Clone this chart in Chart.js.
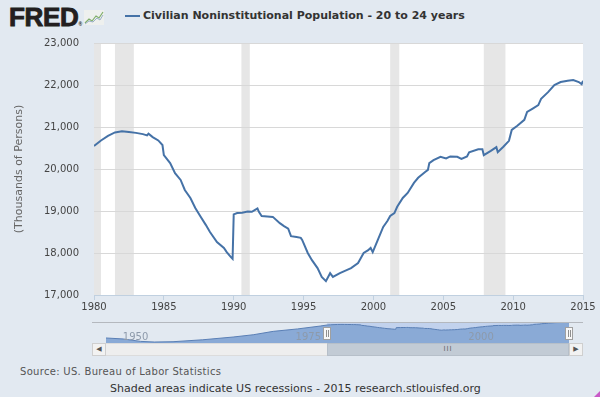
<!DOCTYPE html>
<html>
<head>
<meta charset="utf-8">
<script src="https://cdn.jsdelivr.net/npm/chart.js@4.4.0/dist/chart.umd.min.js"></script>
<style>
  html, body { margin: 0; padding: 0; }
  body { width: 600px; height: 397px; background: #e2e9f1; position: relative; overflow: hidden; font-family: "DejaVu Sans", sans-serif; }
  #main { position: absolute; left: 0; top: 0; }
  #nav { position: absolute; left: 0; top: 318px; }
  .logo { position: absolute; left: 9px; top: 2px; font: bold 26px "Liberation Sans", Arial, sans-serif; color: #231f20; letter-spacing: -0.3px; -webkit-text-stroke: 0.9px #231f20; }
  .logo sup { font-size: 5px; -webkit-text-stroke: 0; letter-spacing: 0; vertical-align: 0; }
  .icon { position: absolute; left: 84px; top: 10px; }
  .legline { position: absolute; left: 125px; top: 15px; width: 15px; height: 2px; background: #4572a7; }
  .legtext { position: absolute; left: 143px; top: 9px; font: bold 11px "DejaVu Sans", sans-serif; color: #333; white-space: nowrap; }
  .source { position: absolute; left: 20px; top: 366px; font: 10px "DejaVu Sans", sans-serif; letter-spacing: 0.3px; color: #555; white-space: nowrap; }
  .note { position: absolute; left: 110px; top: 382px; font: 11px "DejaVu Sans", sans-serif; color: #333; white-space: nowrap; }
  .sb { position: absolute; top: 343px; height: 13px; box-sizing: border-box; }
  .btn { width: 14px; background: #f2f2f2; border: 1px solid #cfcfcf; font-size: 7px; color: #555; text-align: center; line-height: 11px; }
  .track { left: 106px; width: 463px; background: #eeeeee; border-top: 1px solid #dcdcdc; border-bottom: 1px solid #dcdcdc; }
  .thumb { left: 327px; width: 242px; background: #c2cbd5; border: 1px solid #b6bfc9; font-size: 7px; color: #666; text-align: center; line-height: 11px; letter-spacing: 1px; }
  .grip { position: absolute; right: 0; bottom: 0; width: 0; height: 0; border-left: 6px solid transparent; border-bottom: 6px solid #c85ac8; }
</style>
</head>
<body>
<div class="logo">FRED<sup>&reg;</sup></div>
<svg class="icon" width="20" height="15" viewBox="0 0 20 15">
  <rect x="0" y="0" width="20" height="15" fill="#eef0ee"/>
  <polyline points="1,13 5,9 8,11 12,6 15,8 19,2" fill="none" stroke="#7fae6a" stroke-width="1.2"/>
  <polyline points="1,14 5,11 9,12 13,8 16,10 19,5" fill="none" stroke="#9bb0c8" stroke-width="1"/>
</svg>
<div class="legline"></div>
<div class="legtext">Civilian Noninstitutional Population - 20 to 24 years</div>

<canvas id="main" width="600" height="318"></canvas>
<canvas id="nav" width="600" height="44"></canvas>

<div class="sb btn" style="left:92px;">&#9664;</div>
<div class="sb track"></div>
<div class="sb thumb">III</div>
<div class="sb btn" style="left:569px;">&#9654;</div>

<div class="source">Source: US. Bureau of Labor Statistics</div>
<div class="note">Shaded areas indicate US recessions - 2015 research.stlouisfed.org</div>
<div class="grip"></div>

<script>
// Werte (Jahr als Dezimalzahl, Tausend Personen)
const years = [
  1980.0, 1980.5, 1981.0, 1981.5, 1982.0, 1982.5, 1983.0, 1983.5, 1983.8, 1983.9,
  1984.2, 1984.6, 1984.9, 1985.0, 1985.45, 1985.8, 1986.2, 1986.5, 1986.9, 1987.25,
  1987.6, 1988.0, 1988.3, 1988.8, 1989.3, 1989.5, 1989.8, 1989.92, 1990.0, 1990.25,
  1990.6, 1991.0, 1991.3, 1991.5, 1991.7, 1991.8, 1992.0, 1992.4, 1992.8, 1993.3,
  1993.6, 1993.9, 1994.1, 1994.5, 1994.8, 1994.9, 1995.3, 1995.6, 1996.0, 1996.3,
  1996.6, 1996.9, 1997.1, 1997.6, 1998.0, 1998.4, 1998.9, 1999.3, 1999.6, 1999.8,
  1999.95, 2000.3, 2000.7, 2001.0, 2001.2, 2001.5, 2001.7, 2002.1, 2002.45, 2002.9,
  2003.2, 2003.7, 2003.9, 2004.0, 2004.3, 2004.8, 2005.2, 2005.5, 2006.0, 2006.3,
  2006.7, 2006.85, 2007.5, 2007.8, 2007.9, 2008.4, 2008.8, 2008.9, 2009.3, 2009.7,
  2009.9, 2010.3, 2010.8, 2011.0, 2011.4, 2011.8, 2012.0, 2012.5, 2012.95, 2013.4,
  2013.9, 2014.3, 2014.7, 2014.9, 2015.0
];
const population = [
  20550, 20680, 20790, 20870, 20900, 20880, 20860, 20830, 20800, 20840,
  20760, 20680, 20570, 20330, 20140, 19900, 19740, 19500, 19310, 19070,
  18880, 18670, 18500, 18260, 18120, 18020, 17900, 17860, 18920, 18950,
  18960, 18990, 18980, 19020, 19060, 18980, 18880, 18870, 18860, 18710,
  18640, 18580, 18400, 18380, 18360, 18310, 18000, 17830, 17640, 17430,
  17330, 17520, 17430, 17520, 17580, 17640, 17760, 18000, 18060, 18120,
  18020, 18300, 18620, 18760, 18880, 18950, 19100, 19310, 19430, 19670,
  19790, 19930, 19980, 20140, 20210, 20290, 20250, 20300, 20290, 20240,
  20300, 20400, 20470, 20470, 20330, 20430, 20520, 20400, 20530, 20670,
  20930, 21030, 21170, 21360, 21440, 21520, 21670, 21830, 22000, 22070,
  22100, 22120, 22070, 22020, 22100
];

// aeltere Werte, nur im Navigator sichtbar
const navYears = [1948, 1950.5, 1953, 1955, 1957.7, 1962, 1966.4, 1969.3, 1972.2, 1975.7, 1979.0];
const navValues = [12500, 11900, 10400, 10000, 10200, 11400, 13100, 14500, 16600, 18100, 19900];

// Rezessionen (NBER)
const recStart = [1980.0, 1981.5, 1990.55, 2001.2, 2007.9];
const recEnd = [1980.5, 1982.85, 1991.15, 2001.85, 2009.45];

const yTicks = [17000, 18000, 19000, 20000, 21000, 22000, 23000];
const navLabels = [1950, 1975, 2000];
const selFrom = 1980, selTo = 2015;

const lineColor = "#4572a7";

// weisser Plotbereich + graue Rezessionsbalken
const recessionBands = {
  id: "recessionBands",
  beforeDraw(chart) {
    const { ctx, chartArea: a, scales } = chart;
    ctx.save();
    ctx.fillStyle = "#ffffff";
    ctx.fillRect(a.left, a.top, a.right - a.left, a.bottom - a.top);
    ctx.fillStyle = "#e6e6e6";
    for (let i = 0; i < recStart.length; i++) {
      const x1 = scales.x.getPixelForValue(recStart[i]);
      const x2 = scales.x.getPixelForValue(recEnd[i]);
      ctx.fillRect(x1, a.top, x2 - x1, a.bottom - a.top);
    }
    ctx.restore();
  }
};

const mainChart = new Chart(document.getElementById("main").getContext("2d"), {
  type: "line",
  data: {
    datasets: [{
      data: years.map((y, i) => ({ x: y, y: population[i] })),
      borderColor: lineColor,
      borderWidth: 2,
      pointRadius: 0,
      fill: false,
      tension: 0
    }]
  },
  options: {
    responsive: false,
    animation: false,
    layout: { padding: { left: 0, right: 17, top: 43, bottom: 3 } },
    plugins: { legend: { display: false }, tooltip: { enabled: false } },
    scales: {
      x: {
        type: "linear",
        min: 1980,
        max: 2015,
        afterFit(scale) { scale.height = 20; },
        afterBuildTicks(scale) {
          const t = [];
          for (let v = 1980; v <= 2015; v += 5) t.push({ value: v });
          scale.ticks = t;
        },
        ticks: {
          padding: 1,
          maxRotation: 0,
          color: "#444",
          font: { family: "DejaVu Sans", size: 10 },
          callback: (v) => String(v)
        },
        grid: { drawOnChartArea: false, drawTicks: true, tickLength: 5, color: "#c0d0e0" },
        border: { color: "#c0d0e0" }
      },
      y: {
        min: 17000,
        max: 23000,
        afterFit(scale) { scale.width = 94; },
        afterBuildTicks(scale) { scale.ticks = yTicks.map(v => ({ value: v })); },
        ticks: {
          padding: 15,
          color: "#444",
          font: { family: "DejaVu Sans", size: 10 },
          callback: (v) => v.toLocaleString("en-US")
        },
        grid: { color: "#d8d8d8", drawTicks: false },
        border: { display: false },
        title: {
          display: true,
          text: "(Thousands of Persons)",
          color: "#666",
          font: { family: "DejaVu Sans", size: 11 },
          padding: { top: 13, bottom: 0 }
        }
      }
    }
  },
  plugins: [recessionBands]
});

// Navigator: Maske, Rahmenlinie, Griffe, Jahreszahlen
const navigatorDecor = {
  id: "navigatorDecor",
  beforeDatasetsDraw(chart) {
    const { ctx, chartArea: a, scales } = chart;
    const x1 = scales.x.getPixelForValue(selFrom);
    const x2 = scales.x.getPixelForValue(selTo);
    ctx.save();
    ctx.fillStyle = "rgba(120,160,230,0.3)";
    ctx.fillRect(x1, a.top, x2 - x1, a.bottom - a.top);
    ctx.restore();
  },
  afterDatasetsDraw(chart) {
    const { ctx, chartArea: a, scales } = chart;
    ctx.save();
    ctx.strokeStyle = "#b4b8be";
    ctx.lineWidth = 1;
    ctx.beginPath();
    ctx.moveTo(92, a.top + 0.5);
    ctx.lineTo(583, a.top + 0.5);
    ctx.stroke();

    ctx.fillStyle = "#8d9aab";
    ctx.font = "10px 'DejaVu Sans'";
    ctx.textBaseline = "middle";
    navLabels.forEach(v => {
      ctx.fillText(String(v), scales.x.getPixelForValue(v) + 3, a.top + 15);
    });

    [selFrom, selTo].forEach(v => {
      const x = Math.round(scales.x.getPixelForValue(v));
      ctx.fillStyle = "#f8f8f8";
      ctx.strokeStyle = "#a0a0a0";
      ctx.fillRect(x - 3.5, a.top + 5.5, 7, 12);
      ctx.strokeRect(x - 3.5, a.top + 5.5, 7, 12);
      ctx.strokeStyle = "#909090";
      ctx.beginPath();
      ctx.moveTo(x - 0.5, a.top + 8); ctx.lineTo(x - 0.5, a.top + 15);
      ctx.moveTo(x + 1.5, a.top + 8); ctx.lineTo(x + 1.5, a.top + 15);
      ctx.stroke();
    });
    ctx.restore();
  }
};

const navData = navYears.map((y, i) => ({ x: y, y: navValues[i] }))
  .concat(years.map((y, i) => ({ x: y, y: population[i] })));

const navChart = new Chart(document.getElementById("nav").getContext("2d"), {
  type: "line",
  data: {
    datasets: [{
      data: navData,
      borderColor: "#5a7fb5",
      borderWidth: 1,
      backgroundColor: "#8aaad6",
      fill: "start",
      pointRadius: 0,
      tension: 0
    }]
  },
  options: {
    responsive: false,
    animation: false,
    layout: { padding: { left: 106, right: 31, top: 4, bottom: 19 } },
    plugins: { legend: { display: false }, tooltip: { enabled: false } },
    scales: {
      x: { type: "linear", min: 1948, max: 2015, display: false },
      y: { min: 9400, max: 22400, display: false }
    }
  },
  plugins: [navigatorDecor]
});
</script>
</body>
</html>
